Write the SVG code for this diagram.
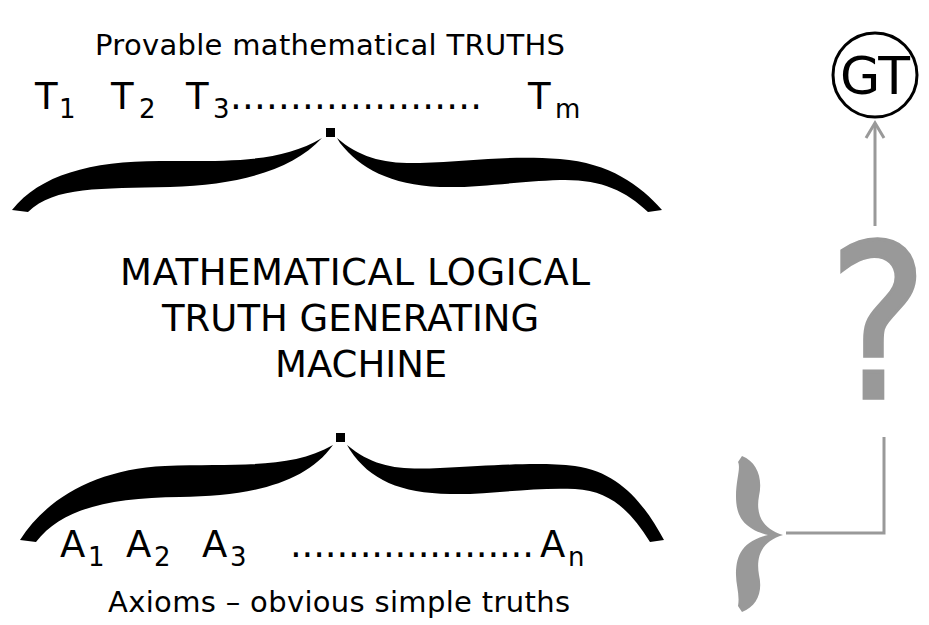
<svg xmlns="http://www.w3.org/2000/svg" width="929" height="625" viewBox="0 0 929 625">
<style>
.t{font-family:"DejaVu Sans",Verdana,sans-serif;fill:#000}
.sm{font-size:29px}
.big{font-size:37px}
.sub{font-size:26px}
.brace{fill:#000}
.grey{fill:#999}
.conn{stroke:#999;stroke-width:3;fill:none}
</style>
<rect width="929" height="625" fill="#fff"/>
<g id="truths">
<text class="t sm" x="95" y="55" textLength="470">Provable mathematical TRUTHS</text>
<text class="t big" x="35" y="109">T</text><text class="t sub" x="59" y="118">1</text>
<text class="t big" x="111" y="109">T</text><text class="t sub" x="139" y="118">2</text>
<text class="t big" x="186" y="109">T</text><text class="t sub" x="213" y="118">3</text>
<text class="t big" x="230" y="109" textLength="252" lengthAdjust="spacing">.....................</text>
<text class="t big" x="528" y="109">T</text><text class="t sub" x="555" y="118">m</text>
</g>
<g id="top-brace">
<path class="brace" d="M12,210 C40,175 90,161 160,161 C230,161 280,163 322,138 C292,170 240,185 170,187 C100,189 55,186 28,212 Z"/>
<rect class="brace" x="326" y="128" width="9" height="9"/>
<path class="brace" d="M337,138 C360,158 385,164 420,163 C470,161 510,155 560,159 C610,163 640,185 662,210 L648,212 C625,190 600,179 560,180 C510,182 480,188 440,187 C390,185 360,168 340,143 Z"/>
</g>
<g id="machine">
<text class="t big" x="120" y="285" textLength="470">MATHEMATICAL LOGICAL</text>
<text class="t big" x="162" y="331">TRUTH GENERATING</text>
<text class="t big" x="275" y="377">MACHINE</text>
</g>
<g id="bottom-brace">
<path class="brace" d="M20,540 C45,500 95,469 165,466 C235,463 290,470 333,445 C305,484 250,496 180,497 C110,498 62,508 36,542 Z"/>
<rect class="brace" x="336" y="433" width="9" height="9"/>
<path class="brace" d="M347,445 C375,468 400,470 440,468 C500,465 540,462 575,466 C620,472 645,505 664,540 L650,542 C630,510 610,491 575,489 C530,487 490,495 450,494 C400,493 370,480 350,450 Z"/>
</g>
<g id="axioms">
<text class="t big" x="60" y="557">A</text><text class="t sub" x="88" y="566">1</text>
<text class="t big" x="126" y="557">A</text><text class="t sub" x="154" y="566">2</text>
<text class="t big" x="202" y="557">A</text><text class="t sub" x="230" y="566">3</text>
<text class="t big" x="290" y="557" textLength="244" lengthAdjust="spacing">.....................</text>
<text class="t big" x="540" y="557">A</text><text class="t sub" x="568" y="566">n</text>
<text class="t sm" x="108" y="612" textLength="462">Axioms – obvious simple truths</text>
</g>
<g id="GT">
<circle cx="875" cy="75" r="42" fill="#fff" stroke="#000" stroke-width="3"/>
<text class="t" x="875" y="94" font-size="52" text-anchor="middle">GT</text>
</g>
<g id="question">
<text x="0" y="0" font-family="'DejaVu Sans',sans-serif" font-size="178" text-anchor="middle" fill="#999" stroke="#999" stroke-width="3" transform="translate(878,398) scale(1.05,1.2)">?</text>
</g>
<g id="axiom-brace">
<path class="grey" d="M742,456 C757,462 763,478 759,496 C756,512 760,528 783,535 C760,542 756,558 759,575 C763,592 757,606 742,612 L738,606 C740,595 736,585 736,575 C736,558 740,542 768,535 C740,528 736,512 736,496 C736,480 741,468 738,462 Z"/>
</g>
<g id="connectors">
<polyline class="conn" points="786,533 884,533 884,437"/>
<line class="conn" x1="875" y1="226" x2="875" y2="123"/>
<polyline class="conn" points="866,138 875,123 884,138"/>
</g>
</svg>
